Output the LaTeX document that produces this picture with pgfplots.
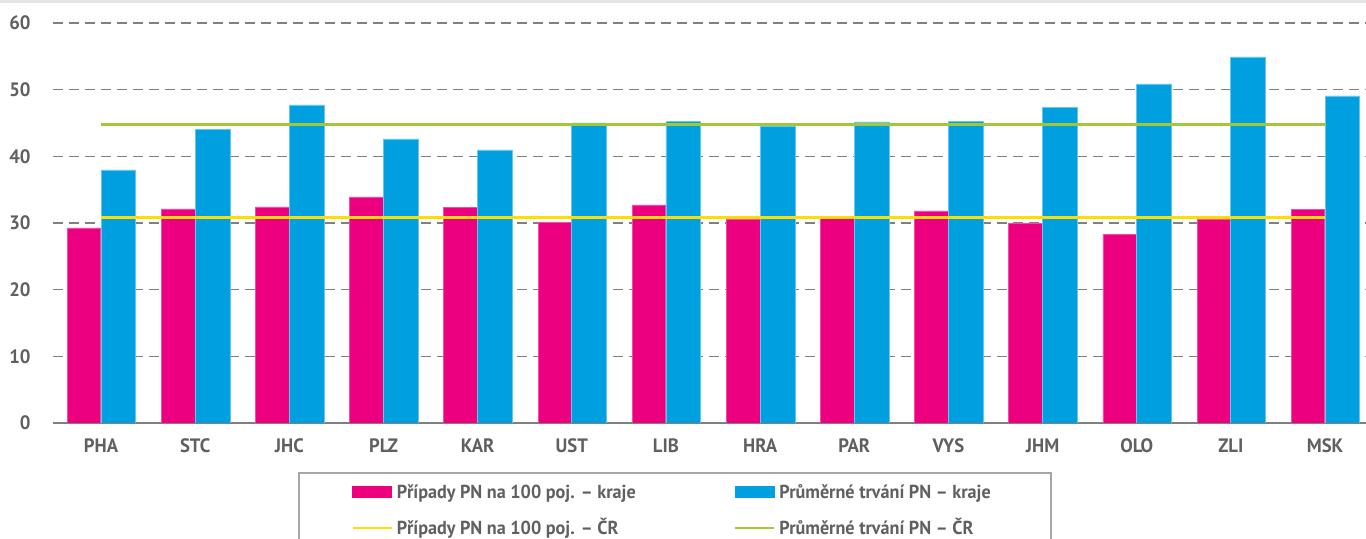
\documentclass[border=0pt]{standalone}
\usepackage{fontspec}
\setmainfont{PT Sans}[FakeStretch=0.965]
\usepackage{pgfplots}
\pgfplotsset{compat=1.18}
\definecolor{cpink}{RGB}{236,0,128}
\definecolor{cblue}{RGB}{0,160,224}
\definecolor{cyellow}{RGB}{255,221,0}
\definecolor{cgreen}{RGB}{162,200,58}
\definecolor{tgray}{RGB}{95,96,98}
\definecolor{ggray}{RGB}{128,128,128}
\begin{document}
\begin{tikzpicture}
\path[use as bounding box] (-26.5pt,-58pt) rectangle (656.5pt,211.5pt);
\fill[black!10] (-26.5pt,209.8pt) rectangle (656.5pt,211.5pt);
\begin{axis}[
  scale only axis,
  width=656.5pt, height=200pt,
  xmin=-0.51, xmax=13.435,
  ymin=0, ymax=60,
  xtick={0,...,13},
  xticklabels={PHA,STC,JHC,PLZ,KAR,UST,LIB,HRA,PAR,VYS,JHM,OLO,ZLI,MSK},
  ytick={10,20,30,40,50,60},
  extra y ticks={0},
  extra y tick style={grid style={solid, draw=ggray, line width=0.7pt, dash pattern=}},
  ymajorgrids,
  grid style={draw=ggray, line width=0.65pt, dash pattern=on 4.8pt off 3.2pt},
  major tick length=0pt,
  axis line style={draw=none},
  /pgf/number format/assume math mode=true,
  tick label style={font=\fontsize{9.7}{11}\selectfont\bfseries, text=tgray},
  yticklabel style={anchor=east, inner sep=0pt, xshift=-11pt},
  xticklabel style={anchor=base, inner sep=0pt, yshift=-15pt},
  legend columns=2,
  legend style={
    at={(0.1866,-0.1225)}, anchor=north west,
    draw=black!35, line width=0.8pt,
    inner xsep=26.5pt, inner ysep=3.75pt,
    font=\fontsize{9.4}{11}\selectfont\bfseries, text=tgray,
    cells={anchor=base west, text height=7pt, text depth=2pt},
    /tikz/every odd column/.append style={column sep=0pt},
    row sep=5.5pt,
  },
]
\addplot[ybar, bar width=16.8pt, bar shift=-8.5pt, fill=cpink, draw=cpink!70!white, line width=0.4pt,
  legend image code/.code={\fill[cpink] (0pt,0.25pt) rectangle (19.5pt,5.75pt);}]
coordinates {(0,29.25) (1,32.1) (2,32.4) (3,33.9) (4,32.35) (5,30.05) (6,32.7) (7,30.6) (8,30.65) (9,31.8) (10,29.9) (11,28.3) (12,30.6) (13,32.0)};
\addlegendentry{\makebox[166.8pt][l]{Případy PN na 100 poj. – kraje}}
\addplot[ybar, bar width=17.4pt, bar shift=8.7pt, fill=cblue, draw=cblue!60!white, line width=0.4pt,
  legend image code/.code={\fill[cblue] (0pt,0.25pt) rectangle (19.5pt,5.75pt);}]
coordinates {(0,37.95) (1,44.0) (2,47.7) (3,42.6) (4,40.95) (5,45.0) (6,45.2) (7,44.55) (8,45.15) (9,45.2) (10,47.3) (11,50.85) (12,54.9) (13,49.05)};
\addlegendentry{\makebox[107.4pt][l]{Průměrné trvání PN – kraje}}
\addplot[sharp plot, no markers, draw=cyellow, line width=1.5pt,
  legend image code/.code={\draw[cyellow, line width=1pt] (0pt,3.25pt) -- (19.5pt,3.25pt);}]
coordinates {(0,30.8) (13,30.8)};
\addlegendentry{\makebox[166.8pt][l]{Případy PN na 100 poj. – ČR}}
\addplot[sharp plot, no markers, draw=cgreen, line width=1.5pt,
  legend image code/.code={\draw[cgreen, line width=1pt] (0pt,3.25pt) -- (19.5pt,3.25pt);}]
coordinates {(0,44.7) (13,44.7)};
\addlegendentry{\makebox[107.4pt][l]{Průměrné trvání PN – ČR}}
\end{axis}
\end{tikzpicture}
\end{document}
